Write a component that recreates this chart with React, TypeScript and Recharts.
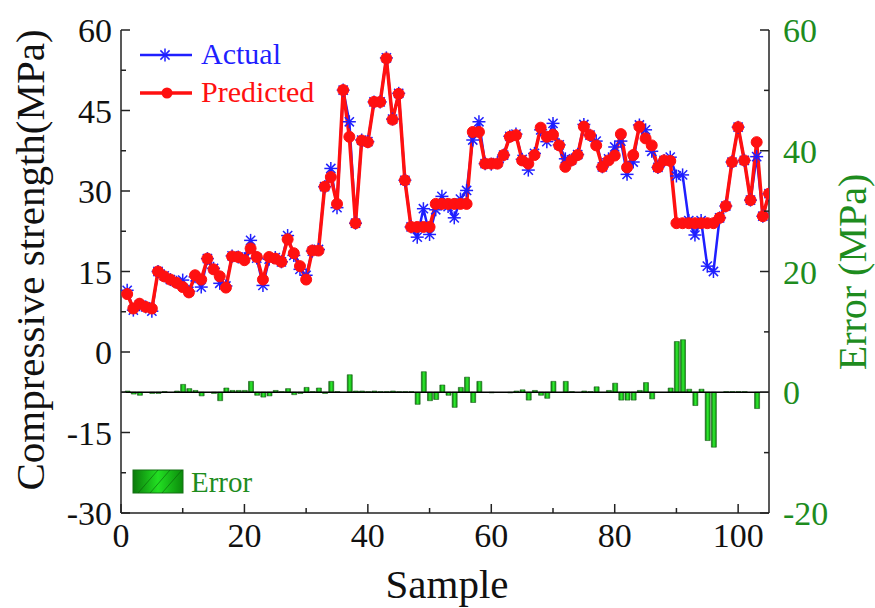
import React from 'react';
import { ComposedChart, Line, Bar, XAxis, YAxis, ReferenceLine } from 'recharts';

const samples = [
  1, 2, 3, 4, 5, 6, 7, 8, 9, 10, 11, 12, 13, 14, 15, 16, 17, 18, 19, 20,
  21, 22, 23, 24, 25, 26, 27, 28, 29, 30, 31, 32, 33, 34, 35, 36, 37, 38, 39, 40,
  41, 42, 43, 44, 45, 46, 47, 48, 49, 50, 51, 52, 53, 54, 55, 56, 57, 58, 59, 60,
  61, 62, 63, 64, 65, 66, 67, 68, 69, 70, 71, 72, 73, 74, 75, 76, 77, 78, 79, 80,
  81, 82, 83, 84, 85, 86, 87, 88, 89, 90, 91, 92, 93, 94, 95, 96, 97, 98, 99, 100,
  101, 102, 103, 104, 105,
];

const actualStrength = [
  11.5, 7.8, 8.8, 8.4, 7.6, 15.0, 14.2, 13.5, 13.0, 13.4,
  11.3, 14.0, 12.1, 17.4, 15.6, 12.8, 12.3, 17.9, 17.7, 17.4,
  20.8, 17.5, 12.4, 17.3, 17.6, 16.8, 21.7, 18.0, 15.4, 14.3,
  18.8, 19.1, 30.8, 34.2, 26.9, 48.8, 42.9, 24.0, 39.5, 39.2,
  46.6, 46.6, 54.8, 43.4, 48.2, 32.0, 23.3, 21.4, 26.7, 21.9,
  26.5, 29.0, 27.1, 25.0, 28.5, 30.1, 39.5, 42.9, 35.1, 35.0,
  35.3, 36.7, 40.2, 40.6, 35.9, 33.9, 37.0, 41.4, 39.2, 42.6,
  38.6, 36.0, 35.8, 36.8, 42.4, 40.4, 39.3, 34.5, 36.0, 38.2,
  39.3, 33.1, 35.4, 42.3, 41.4, 37.4, 34.4, 35.7, 36.3, 32.8,
  33.0, 24.5, 21.8, 24.5, 16.0, 15.0, 25.0, 27.2, 35.4, 41.9,
  35.7, 28.3, 36.4, 25.3, 29.5,
];

const predictedStrength = [
  10.8, 8.1, 9.0, 8.4, 8.1, 15.0, 14.1, 13.5, 12.9, 12.1,
  11.1, 14.3, 13.5, 17.4, 15.4, 14.1, 12.0, 17.8, 17.7, 17.1,
  19.3, 17.7, 13.5, 17.7, 17.4, 16.8, 21.0, 18.4, 16.0, 13.5,
  18.9, 18.9, 30.8, 32.6, 27.6, 48.8, 40.1, 24.0, 39.4, 39.1,
  46.6, 46.6, 54.7, 43.3, 48.1, 32.0, 23.3, 23.3, 23.3, 23.3,
  27.6, 27.6, 27.6, 27.6, 27.6, 27.6, 41.0, 41.0, 35.1, 35.1,
  35.1, 36.7, 40.1, 40.4, 35.7, 35.1, 36.7, 41.8, 40.1, 40.5,
  38.5, 34.5, 35.7, 36.7, 42.0, 40.4, 38.5, 34.5, 35.7, 36.6,
  40.6, 34.4, 36.7, 42.0, 39.8, 38.5, 34.4, 35.7, 35.6, 24.0,
  24.0, 24.0, 24.0, 24.0, 24.0, 24.0, 25.0, 27.2, 35.4, 41.9,
  35.7, 28.3, 39.1, 25.3, 29.5,
];

const errorValues = [
  0.2, -0.3, -0.5, 0.0, -0.2, -0.2, 0.1, 0.0, 0.2, 1.3,
  0.6, 0.3, -0.6, 0.0, -0.2, -1.4, 0.7, 0.3, 0.3, 0.3,
  1.8, -0.5, -0.8, -0.6, 0.3, 0.1, 0.6, -0.4, -0.2, 0.8,
  0.1, 0.7, -0.2, 1.8, 0.1, 0.0, 2.9, 0.2, 0.2, 0.1,
  0.2, 0.1, 0.1, 0.2, 0.1, 0.1, 0.1, -2.0, 3.4, -1.4,
  -1.2, 1.2, -0.5, -2.5, 0.8, 2.5, -1.7, 1.8, 0.0, -0.1,
  0.0, 0.0, -0.1, 0.2, 0.4, -1.3, 0.3, -0.5, -1.0, 1.8,
  0.0, 1.8, 0.1, 0.0, 0.2, 0.1, 0.9, 0.0, 0.3, 1.5,
  -1.3, -1.3, -1.3, 0.3, 1.6, -1.1, 0.0, 0.0, 0.7, 8.4,
  8.7, 0.5, -2.2, 0.5, -8.0, -9.1, 0.0, 0.1, 0.1, 0.1,
  0.1, 0.0, -2.7, 0.0, 0.0,
];

const xTicks = [0, 10, 20, 30, 40, 50, 60, 70, 80, 90, 100];
const leftTicks = [-30, -22.5, -15, -7.5, 0, 7.5, 15, 22.5, 30, 37.5, 45, 52.5, 60];
const rightTicks = [-20, -10, 0, 10, 20, 30, 40, 50, 60];

const data = samples.map((s, i) => ({
  sample: s,
  actual: actualStrength[i],
  predicted: predictedStrength[i],
  error: errorValues[i],
}));

const FONT = "'Liberation Serif', 'Times New Roman', Times, serif";
const AXIS = '#222';
const GREEN = '#1e8c1e';
const BLUE = '#1f1fff';
const RED = '#ff1010';

const txt = (size: number, color: string): React.CSSProperties => ({
  fontFamily: FONT,
  fontSize: size,
  fill: color,
});

const BottomTick = (props: any) => {
  const { x, y, payload } = props;
  const v = payload.value;
  const major = v % 20 === 0;
  return (
    <g>
      <line x1={x} x2={x} y1={y} y2={y - (major ? 9 : 5)} stroke={AXIS} strokeWidth={1.5} />
      {major && (
        <text x={x} y={y + 34} textAnchor="middle" style={txt(34, '#111')}>
          {v}
        </text>
      )}
    </g>
  );
};

const TopTick = (props: any) => {
  const { x, y, payload } = props;
  const v = payload.value;
  const major = v % 20 === 0;
  return <line x1={x} x2={x} y1={y} y2={y + (major ? 9 : 5)} stroke={AXIS} strokeWidth={1.5} />;
};

const LeftTick = (props: any) => {
  const { x, y, payload } = props;
  const v = payload.value;
  const major = v % 15 === 0;
  return (
    <g>
      <line x1={x} x2={x + (major ? 9 : 5)} y1={y} y2={y} stroke={AXIS} strokeWidth={1.5} />
      {major && (
        <text x={x - 9} y={y + 12} textAnchor="end" style={txt(34, '#111')}>
          {v}
        </text>
      )}
    </g>
  );
};

const RightTick = (props: any) => {
  const { x, y, payload } = props;
  const v = payload.value;
  const major = v % 20 === 0;
  return (
    <g>
      <line x1={x} x2={x - (major ? 9 : 5)} y1={y} y2={y} stroke={AXIS} strokeWidth={1.5} />
      {major && (
        <text x={x + 14} y={y + 12} textAnchor="start" style={txt(34, GREEN)}>
          {v}
        </text>
      )}
    </g>
  );
};

const StarDot = (props: any) => {
  const { cx, cy } = props;
  if (cx == null || cy == null) return <g />;
  const r = 6.5;
  const d = r * 0.707;
  return (
    <g stroke={BLUE} strokeWidth={1.5}>
      <line x1={cx - r} y1={cy} x2={cx + r} y2={cy} />
      <line x1={cx} y1={cy - r} x2={cx} y2={cy + r} />
      <line x1={cx - d} y1={cy - d} x2={cx + d} y2={cy + d} />
      <line x1={cx - d} y1={cy + d} x2={cx + d} y2={cy - d} />
    </g>
  );
};

const Overlay = () => (
  <svg
    width={875}
    height={608}
    style={{ position: 'absolute', left: 0, top: 0, pointerEvents: 'none' }}
  >
    <defs>
      <linearGradient id="legGrad" x1="0" y1="0" x2="1" y2="0">
        <stop offset="0%" stopColor="#0b7a0b" />
        <stop offset="50%" stopColor="#22e022" />
        <stop offset="100%" stopColor="#0b8a0b" />
      </linearGradient>
    </defs>
    <text transform="translate(44,260) rotate(-90)" textAnchor="middle" style={txt(41, '#111')}>
      Compressive strength(MPa)
    </text>
    <text transform="translate(866,272) rotate(-90)" textAnchor="middle" style={txt(40, GREEN)}>
      Error (MPa)
    </text>
    <text x={447} y={598} textAnchor="middle" style={txt(41, '#111')}>
      Sample
    </text>
    <line x1={140} x2={192} y1={55} y2={55} stroke={BLUE} strokeWidth={2.5} />
    <g stroke={BLUE} strokeWidth={1.5}>
      <line x1={158.5} x2={171.5} y1={55} y2={55} />
      <line x1={165} x2={165} y1={48.5} y2={61.5} />
      <line x1={160.4} x2={169.6} y1={50.4} y2={59.6} />
      <line x1={160.4} x2={169.6} y1={59.6} y2={50.4} />
    </g>
    <text x={201} y={64} style={txt(30, BLUE)}>
      Actual
    </text>
    <line x1={140} x2={192} y1={93} y2={93} stroke={RED} strokeWidth={3.5} />
    <circle cx={167} cy={93} r={5.5} fill={RED} />
    <text x={201} y={102} style={txt(30, RED)}>
      Predicted
    </text>
    <rect x={133} y={470} width={50} height={23} fill="url(#legGrad)" stroke="#147014" strokeWidth={1} />
    <g stroke="#0a5a0a" strokeWidth={0.8} opacity={0.7}>
      <line x1={138} y1={493} x2={158} y2={470} />
      <line x1={150} y1={493} x2={170} y2={470} />
      <line x1={162} y1={493} x2={182} y2={470} />
    </g>
    <text x={191} y={492} style={txt(29, GREEN)}>
      Error
    </text>
  </svg>
);

export default function App() {
  return (
    <div style={{ position: 'absolute', left: 0, top: 0, width: 875, height: 608, background: '#fff' }}>
      <ComposedChart
        width={875}
        height={608}
        data={data}
        margin={{ top: 30, right: 0, bottom: 0, left: 0 }}
      >
        <defs>
          <linearGradient id="errGrad" x1="0" y1="0" x2="1" y2="0">
            <stop offset="0%" stopColor="#0b6e0b" />
            <stop offset="50%" stopColor="#30f030" />
            <stop offset="100%" stopColor="#0b8a0b" />
          </linearGradient>
        </defs>
        <XAxis
          dataKey="sample"
          type="number"
          domain={[0, 105]}
          ticks={xTicks}
          interval={0}
          height={95}
          tickSize={0}
          tickMargin={0}
          tickLine={false}
          tick={<BottomTick />}
          axisLine={{ stroke: AXIS, strokeWidth: 1.5 }}
          allowDataOverflow
        />
        <XAxis
          xAxisId="top"
          orientation="top"
          dataKey="sample"
          type="number"
          domain={[0, 105]}
          ticks={xTicks}
          interval={0}
          height={0}
          tickSize={0}
          tickMargin={0}
          tickLine={false}
          tick={<TopTick />}
          axisLine={{ stroke: AXIS, strokeWidth: 1.5 }}
          allowDataOverflow
        />
        <YAxis
          yAxisId="left"
          orientation="left"
          type="number"
          domain={[-30, 60]}
          ticks={leftTicks}
          interval={0}
          width={121}
          tickSize={0}
          tickMargin={0}
          tickLine={false}
          tick={<LeftTick />}
          axisLine={{ stroke: AXIS, strokeWidth: 1.5 }}
          allowDataOverflow
        />
        <YAxis
          yAxisId="right"
          orientation="right"
          type="number"
          domain={[-20, 60]}
          ticks={rightTicks}
          interval={0}
          width={106}
          tickSize={0}
          tickMargin={0}
          tickLine={false}
          tick={<RightTick />}
          axisLine={{ stroke: AXIS, strokeWidth: 1.5 }}
          allowDataOverflow
        />
        <Bar
          dataKey="error"
          yAxisId="right"
          barSize={5}
          fill="url(#errGrad)"
          stroke="#175c17"
          strokeWidth={0.6}
          isAnimationActive={false}
        />
        <ReferenceLine yAxisId="right" y={0} stroke="#000" strokeWidth={1.5} />
        <Line
          dataKey="actual"
          yAxisId="left"
          stroke={BLUE}
          strokeWidth={2.5}
          dot={<StarDot />}
          activeDot={false}
          isAnimationActive={false}
        />
        <Line
          dataKey="predicted"
          yAxisId="left"
          stroke={RED}
          strokeWidth={3.5}
          dot={{ r: 5.5, fill: RED, stroke: RED, strokeWidth: 1 }}
          activeDot={false}
          isAnimationActive={false}
        />
      </ComposedChart>
      <Overlay />
    </div>
  );
}
